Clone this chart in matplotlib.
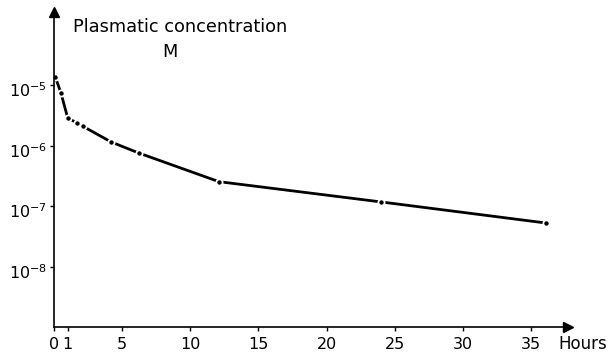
import matplotlib
matplotlib.use("Agg")
import matplotlib.pyplot as plt
import matplotlib.transforms as mtransforms
import numpy as np

hours = [0.1, 0.5, 1.0, 1.7, 2.1, 4.2, 6.2, 12.1, 24.0, 36.1]
conc = [1.35e-5, 7.5e-6, 2.9e-6, 2.35e-6, 2.1e-6, 1.15e-6, 7.6e-7, 2.55e-7, 1.18e-7, 5.3e-8]

x_ticks = [0, 1, 5, 10, 15, 20, 25, 30, 35]
y_ticks = [1e-5, 1e-6, 1e-7, 1e-8]
y_labels = ["10$^{-5}$", "10$^{-6}$", "10$^{-7}$", "10$^{-8}$"]

plt.rcParams['font.family'] = ['DejaVu Sans']
plt.rcParams['mathtext.fontset'] = 'dejavusans'

fig = plt.figure(figsize=(6.16, 3.55), dpi=100)
ax = fig.add_axes([0.0877, 0.0789, 0.834, 0.887])

ax.set_yscale('log')
ax.set_xlim(0, 37.7)
ax.set_ylim(1.02e-9, 1.6e-4)

ax.plot(hours, conc, color='black', lw=2.0, solid_capstyle='butt',
        marker='o', ms=4.5, mfc='black', mec='white', mew=1.3)

for s in ['top', 'right']:
    ax.spines[s].set_visible(False)
ax.spines['left'].set_linewidth(1.2)
ax.spines['bottom'].set_linewidth(1.2)

# arrow heads at the axis ends
ax.plot([0], [1], marker='^', ms=7, color='black', transform=ax.transAxes, clip_on=False)
ax.plot([1], [0], marker='>', ms=7, color='black', transform=ax.transAxes, clip_on=False)

ax.set_xticks(x_ticks)
ax.set_xticklabels([str(t) for t in x_ticks])
ax.set_yticks(y_ticks)
ax.set_yticklabels(y_labels)
ax.minorticks_off()
ax.tick_params(axis='both', direction='out', length=3, width=1, labelsize=11.5)
ax.tick_params(axis='x', pad=4)
ax.tick_params(axis='y', pad=2)

# superscript sits at tick level, so push the y labels down a little
shift = mtransforms.ScaledTranslation(0, -4 / 100, fig.dpi_scale_trans)
for lab in ax.get_yticklabels():
    lab.set_transform(lab.get_transform() + shift)

fig.text(180 / 616, 1 - 27 / 355, 'Plasmatic concentration', ha='center', va='center', fontsize=12.8)
fig.text(170 / 616, 1 - 52 / 355, 'M', ha='center', va='center', fontsize=12.8)
fig.text(583 / 616, 1 - 344 / 355, 'Hours', ha='center', va='center', fontsize=12)

fig.savefig('out.png', dpi=100)
